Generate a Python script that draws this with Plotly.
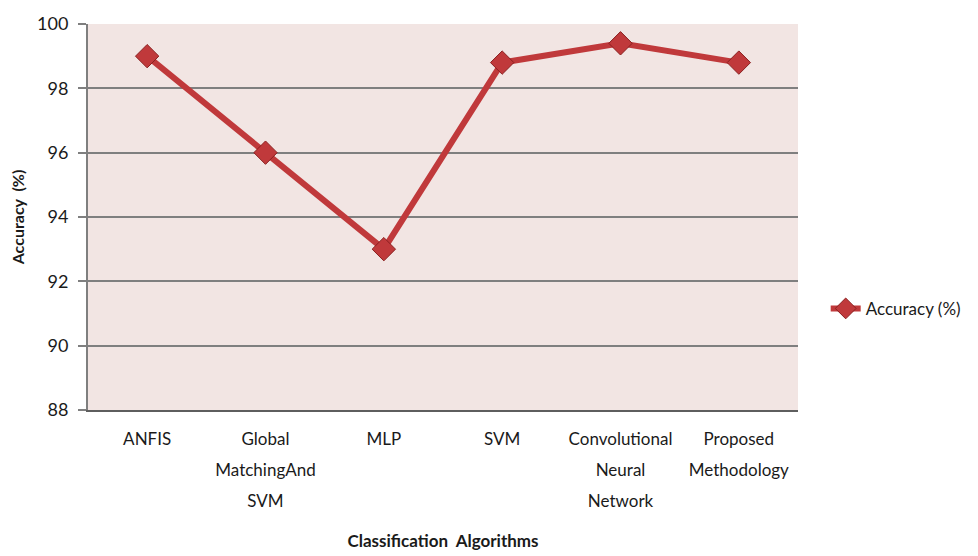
import plotly.graph_objects as go

# Classification algorithms compared and their accuracy (%)
algorithms = ["ANFIS", "Global MatchingAnd SVM", "MLP", "SVM",
              "Convolutional Neural Network", "Proposed Methodology"]
label_lines = [["ANFIS"], ["Global", "MatchingAnd", "SVM"], ["MLP"], ["SVM"],
               ["Convolutional", "Neural", "Network"], ["Proposed", "Methodology"]]
accuracy = [99.0, 96.0, 93.0, 98.8, 99.4, 98.8]
y_ticks = [88, 90, 92, 94, 96, 98, 100]

FONT = "Lato, 'Open Sans', sans-serif"
LINE_RED = "#C0393B"
TEXT = "#1a1a1a"

# Tick text is set in a large base size (which sets the line pitch) while the
# glyphs themselves are drawn smaller, giving airy multi-line labels.
GLYPH_PX = 17
tick_labels = ["<br>".join(f"<span style='font-size:{GLYPH_PX}px'>{s}</span>"
                           for s in lines) for lines in label_lines]

fig = go.Figure()
fig.add_trace(go.Scatter(
    x=algorithms,
    y=accuracy,
    mode="lines+markers",
    name="Accuracy (%)",
    line=dict(color=LINE_RED, width=6),
    marker=dict(symbol="diamond", size=18, color=LINE_RED,
                line=dict(color="#8A1F1F", width=1)),
))

fig.update_layout(
    width=978,
    height=556,
    margin=dict(l=88, r=176, t=24, b=146),
    paper_bgcolor="white",
    plot_bgcolor="#F2E5E3",
    font=dict(family=FONT, size=18, color=TEXT),
    showlegend=True,
    legend=dict(
        x=1.039, y=0.262, xanchor="left", yanchor="middle",
        font=dict(family=FONT, size=17, color=TEXT),
        bgcolor="rgba(0,0,0,0)", itemwidth=30,
    ),
    xaxis=dict(
        type="category",
        categoryorder="array",
        categoryarray=algorithms,
        tickvals=algorithms,
        ticktext=tick_labels,
        range=[-0.5, 5.5],
        showgrid=False,
        showline=True,
        linecolor="#5e5e5e",
        linewidth=2,
        ticks="",
        ticklabelstandoff=4,
        tickfont=dict(family=FONT, size=24, color=TEXT),
        title=dict(text="<b>Classification  Algorithms</b>",
                   font=dict(family=FONT, size=17, color=TEXT),
                   standoff=25),
        automargin=False,
        fixedrange=True,
    ),
    yaxis=dict(
        range=[88, 100],
        tickvals=y_ticks,
        showgrid=True,
        gridcolor="#7f7f7f",
        gridwidth=2,
        showline=True,
        linecolor="#7f7f7f",
        linewidth=2,
        ticks="outside",
        ticklen=8,
        tickwidth=2,
        tickcolor="#7f7f7f",
        ticklabelstandoff=6,
        tickfont=dict(family=FONT, size=18, color=TEXT),
        title=dict(text="<b>Accuracy  (%)</b>",
                   font=dict(family=FONT, size=16, color=TEXT),
                   standoff=8),
        zeroline=False,
        automargin=False,
        fixedrange=True,
    ),
)

fig.write_html("out.html")
